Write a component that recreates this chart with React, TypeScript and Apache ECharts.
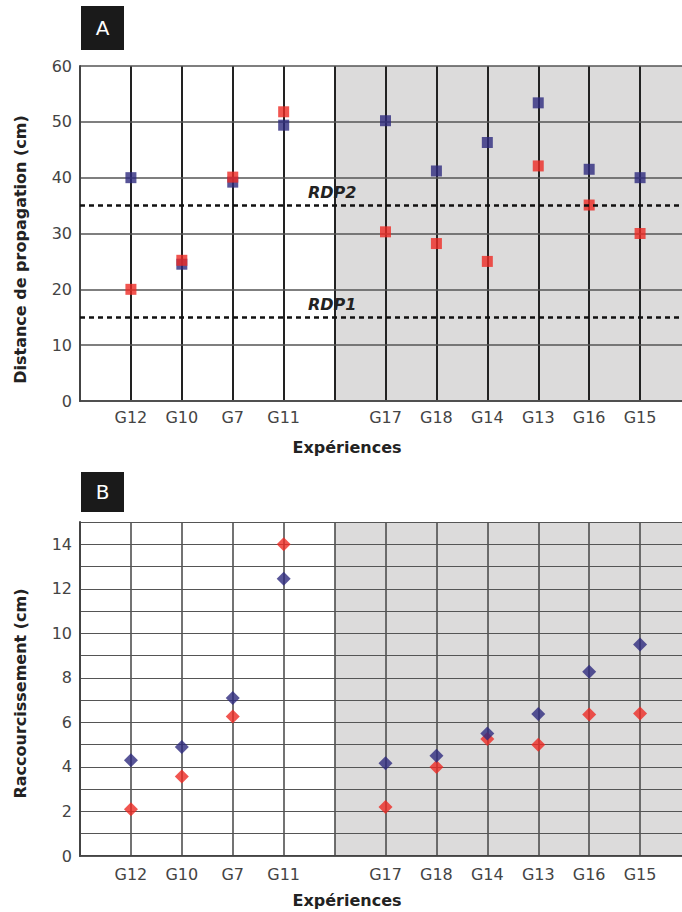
import React, { useEffect, useRef } from "react";
import * as echarts from "echarts";

// x slots: blanks mark the grid edges and the boundary between the two groups
const categories = ["", "G12", "G10", "G7", "G11", " ", "G17", "G18", "G14", "G13", "G16", "G15", "  "];
const experiments = ["G12", "G10", "G7", "G11", "G17", "G18", "G14", "G13", "G16", "G15"];

// Panel A: distance de propagation (cm)
const distBlue = [40, 24.5, 39.2, 49.4, 50.2, 41.2, 46.3, 53.4, 41.5, 40];
const distRed = [20, 25.2, 40.1, 51.8, 30.3, 28.2, 25.0, 42.1, 35.1, 30];

// Panel B: raccourcissement (cm)
const shortBlue = [4.3, 4.9, 7.1, 12.45, 4.17, 4.5, 5.5, 6.38, 8.27, 9.5];
const shortRed = [2.1, 3.57, 6.27, 14.0, 2.2, 4.0, 5.25, 5.0, 6.35, 6.4];

// Reference lines in panel A
const rdpNames = ["RDP2", "RDP1"];
const rdpValues = [35, 15];

const FONT = "'DejaVu Sans', 'Liberation Sans', Arial, sans-serif";
const BLUE = "#2e2a7e";
const RED = "#ee2b24";
const SHADE = "#dcdbdb";
const CLEAR = "rgba(0,0,0,0)";
const shadeColors = [CLEAR, CLEAR, CLEAR, CLEAR, CLEAR, SHADE, SHADE, SHADE, SHADE, SHADE, SHADE, SHADE];

function xAxisFor(gridIndex: number, vColor: string, vWidth: number, labelMargin: number, nameGap: number) {
  return {
    type: "category",
    gridIndex,
    z: 0,
    data: categories,
    boundaryGap: false,
    axisLine: { show: true, lineStyle: { color: "#444", width: 2 } },
    axisTick: { show: false },
    axisLabel: { interval: 0, fontSize: 16, color: "#444", margin: labelMargin, fontFamily: FONT },
    splitLine: { show: true, interval: 0, lineStyle: { color: vColor, width: vWidth } },
    splitArea: { show: true, interval: 0, areaStyle: { color: shadeColors } },
    name: "Expériences",
    nameLocation: "middle",
    nameGap,
    nameTextStyle: { fontSize: 16, fontWeight: "bold", color: "#222", fontFamily: FONT, padding: [0, 77, 0, 0] },
  };
}

function yAxisFor(gridIndex: number, max: number, interval: number, name: string, hWidth: number, shift: number, even: boolean) {
  return {
    type: "value",
    gridIndex,
    z: 1,
    min: 0,
    max,
    interval,
    axisLine: { show: true, lineStyle: { color: "#444", width: 2 } },
    axisTick: { show: false },
    axisLabel: {
      fontSize: 16,
      color: "#444",
      margin: 8,
      fontFamily: FONT,
      formatter: (v: number) => (!even || v % 2 === 0 ? String(v) : ""),
    },
    splitLine: { show: true, lineStyle: { color: "#555", width: hWidth } },
    name,
    nameLocation: "middle",
    nameGap: 52,
    nameTextStyle: { fontSize: 16, fontWeight: "bold", color: "#222", fontFamily: FONT, padding: [0, shift, 0, 0] },
  };
}

export default function App() {
  const ref = useRef<HTMLDivElement>(null);
  useEffect(() => {
    document.body.style.margin = "0";
    const chart = echarts.init(ref.current!, null, { renderer: "svg" });
    const option = {
      animation: false,
      textStyle: { fontFamily: FONT },
      grid: [
        { left: 80, top: 66, width: 611, height: 335, outerBoundsMode: "none", containLabel: false },
        { left: 80, top: 522, width: 611, height: 334, outerBoundsMode: "none", containLabel: false },
      ],
      xAxis: [xAxisFor(0, "#222", 2, 8, 38), xAxisFor(1, "#444", 1.5, 10, 36)],
      yAxis: [
        yAxisFor(0, 60, 10, "Distance de propagation (cm)", 1.5, 32, false),
        yAxisFor(1, 15, 1, "Raccourcissement (cm)", 1.2, 9, true),
      ],
      series: [
        {
          type: "scatter",
          xAxisIndex: 0,
          yAxisIndex: 0,
          symbol: "rect",
          symbolSize: 11,
          itemStyle: { color: BLUE },
          data: experiments.map((c, i) => [c, distBlue[i]]),
          markLine: {
            silent: true,
            symbol: ["none", "none"],
            lineStyle: { color: "#111", width: 2.5, type: [5, 4] },
            label: {
              show: true,
              position: "insideStartTop",
              distance: [228, 5],
              formatter: "{b}",
              fontSize: 16,
              fontStyle: "italic",
              fontWeight: "bold",
              color: "#222",
              fontFamily: FONT,
            },
            data: rdpNames.map((n, i) => ({ name: n, yAxis: rdpValues[i] })),
          },
        },
        {
          type: "scatter",
          xAxisIndex: 0,
          yAxisIndex: 0,
          symbol: "rect",
          symbolSize: 11,
          itemStyle: { color: RED },
          data: experiments.map((c, i) => [c, distRed[i]]),
        },
        {
          type: "scatter",
          xAxisIndex: 1,
          yAxisIndex: 1,
          symbol: "diamond",
          symbolSize: 14,
          itemStyle: { color: RED },
          data: experiments.map((c, i) => [c, shortRed[i]]),
        },
        {
          type: "scatter",
          xAxisIndex: 1,
          yAxisIndex: 1,
          symbol: "diamond",
          symbolSize: 14,
          itemStyle: { color: BLUE },
          data: experiments.map((c, i) => [c, shortBlue[i]]),
        },
      ],
      graphic: [
        {
          type: "group",
          left: 81,
          top: 6,
          children: [
            { type: "rect", shape: { x: 0, y: 0, width: 43, height: 44 }, style: { fill: "#1a1a1a" } },
            {
              type: "text",
              x: 21.5,
              y: 22,
              style: { text: "A", fill: "#fff", fontSize: 20, fontFamily: FONT, align: "center", verticalAlign: "middle" },
            },
          ],
        },
        {
          type: "group",
          left: 81,
          top: 472,
          children: [
            { type: "rect", shape: { x: 0, y: 0, width: 43, height: 40 }, style: { fill: "#1a1a1a" } },
            {
              type: "text",
              x: 21.5,
              y: 20,
              style: { text: "B", fill: "#fff", fontSize: 20, fontFamily: FONT, align: "center", verticalAlign: "middle" },
            },
          ],
        },
      ],
    };
    chart.setOption(option as any);
    return () => chart.dispose();
  }, []);
  return <div ref={ref} style={{ width: 682, height: 912 }} />;
}
